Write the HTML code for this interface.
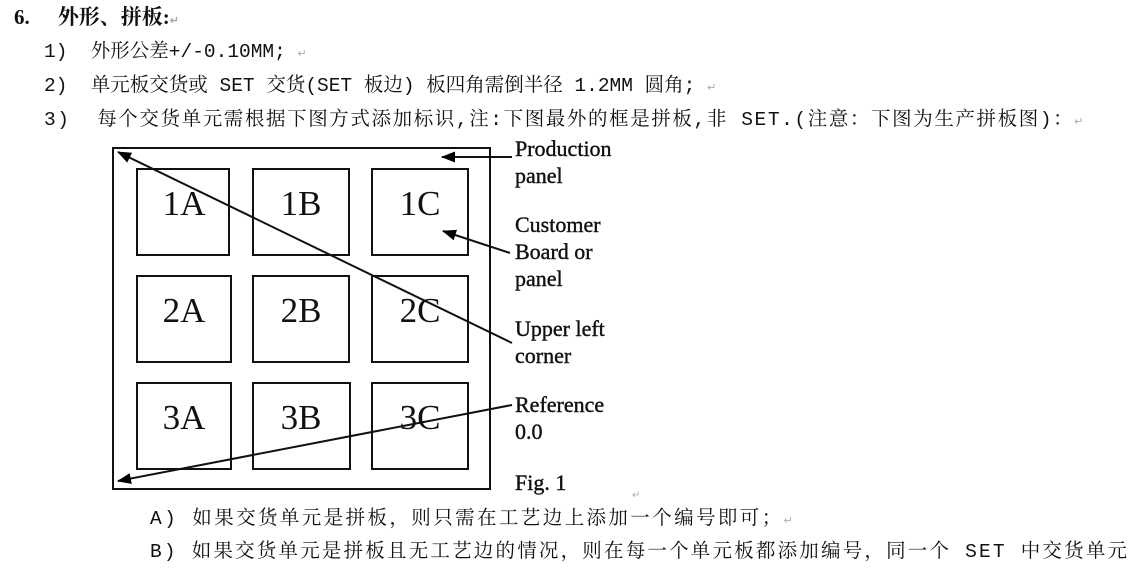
<!DOCTYPE html>
<html><head><meta charset="utf-8">
<style>
html,body{margin:0;padding:0;background:#fff;}
body{width:1128px;height:574px;position:relative;overflow:hidden;}
.t{position:absolute;white-space:nowrap;font-family:"Liberation Mono","Noto Serif CJK SC",serif;font-size:19.5px;color:#111;line-height:1;}
.m{color:#aaa;font-size:11px;}
</style></head><body>
<div class="t" style="left:14px;top:7px;font-family:'Liberation Serif','Noto Serif CJK SC',serif;font-weight:bold;font-size:21px;">6.<span style="display:inline-block;width:28px"></span>外形、拼板:<span class="m">↵</span></div>
<div class="t" style="left:44px;top:43px;">1)&nbsp;&nbsp;外形公差+/-0.10MM; <span class="m">↵</span></div>
<div class="t" style="left:44px;top:77px;">2)&nbsp;&nbsp;单元板交货或 SET 交货(SET 板边) 板四角需倒半径 1.2MM 圆角; <span class="m">↵</span></div>
<div class="t" style="left:44px;top:111px;letter-spacing:1.6px;">3)&nbsp;&nbsp;每个交货单元需根据下图方式添加标识,注:下图最外的框是拼板,非 SET.(注意：下图为生产拼板图)：<span class="m">↵</span></div>
<div class="t" style="left:150px;top:510px;letter-spacing:2.4px;">A) 如果交货单元是拼板，则只需在工艺边上添加一个编号即可；<span class="m">↵</span></div>
<div class="t" style="left:150px;top:543px;letter-spacing:2.2px;">B) 如果交货单元是拼板且无工艺边的情况，则在每一个单元板都添加编号，同一个 SET 中交货单元</div>
<svg style="position:absolute;left:0;top:0" width="1128" height="574">
<defs><marker id="a" markerWidth="14" markerHeight="11" refX="13" refY="5.5" orient="auto" markerUnits="userSpaceOnUse"><path d="M0,0 L14,5.5 L0,11 Z" fill="#000"/></marker></defs>
<g fill="none" stroke="#111" stroke-width="2">
<rect x="113" y="148" width="377" height="341"/>
<rect x="137" y="169" width="92" height="86"/>
<rect x="253" y="169" width="96" height="86"/>
<rect x="372" y="169" width="96" height="86"/>
<rect x="137" y="276" width="94" height="86"/>
<rect x="253" y="276" width="96" height="86"/>
<rect x="372" y="276" width="96" height="86"/>
<rect x="137" y="383" width="94" height="86"/>
<rect x="253" y="383" width="97" height="86"/>
<rect x="372" y="383" width="96" height="86"/>
<line x1="512" y1="343" x2="118" y2="152" marker-end="url(#a)"/>
<line x1="512" y1="157" x2="442" y2="157" marker-end="url(#a)"/>
<line x1="510" y1="253" x2="443" y2="231" marker-end="url(#a)"/>
<line x1="512" y1="405" x2="118" y2="481" marker-end="url(#a)"/>
</g>
<g font-family="Liberation Serif,serif" font-size="35" fill="#111" text-anchor="middle">
<text x="184" y="215">1A</text><text x="301" y="215">1B</text><text x="420" y="215">1C</text>
<text x="184" y="322">2A</text><text x="301" y="322">2B</text><text x="420" y="322">2C</text>
<text x="184" y="429">3A</text><text x="301" y="429">3B</text><text x="420" y="429">3C</text>
</g>
<g font-family="Liberation Serif,serif" font-size="22" fill="#111" stroke="#111" stroke-width="0.4">
<text x="515" y="156">Production</text><text x="515" y="183">panel</text>
<text x="515" y="232">Customer</text><text x="515" y="259">Board or</text><text x="515" y="286">panel</text>
<text x="515" y="336">Upper left</text><text x="515" y="363">corner</text>
<text x="515" y="412">Reference</text><text x="515" y="439">0.0</text>
<text x="515" y="490">Fig. 1</text>
</g>
<text x="632" y="498" font-size="10" fill="#aaa">↵</text>
</svg>
</body></html>
